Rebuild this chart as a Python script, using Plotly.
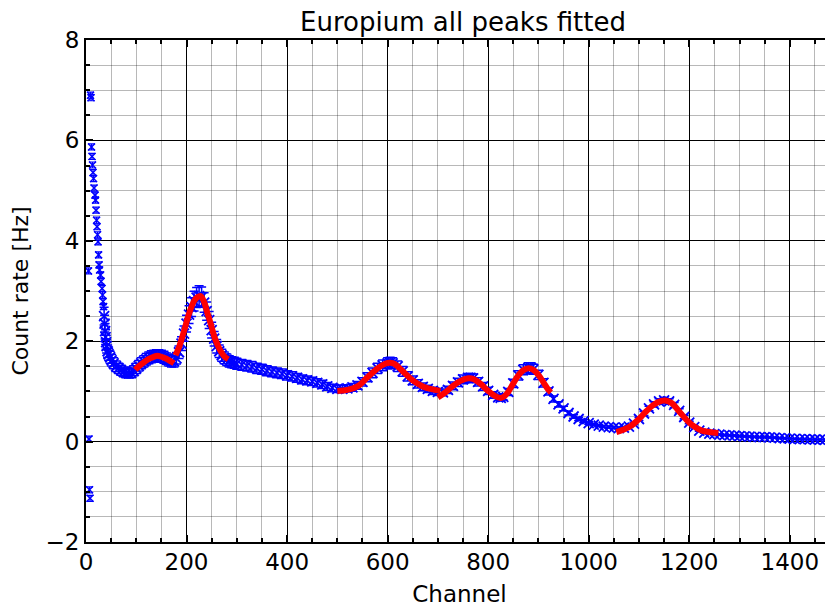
import plotly.graph_objects as go

# ---- measured data (channel, count rate in Hz) ----
# first channels (noisy start of the spectrum)
early_channels = [6, 7, 8, 5, 9, 10, 11, 12, 13, 14, 15, 16, 18, 19, 20, 21, 22, 23, 24, 25, 26, 27, 29, 30, 32, 33,
                  34, 35]
early_rates = [0.05, -0.96, -1.13, 3.40, 6.90, 6.85, 5.87, 5.68, 5.51, 5.36, 5.24, 5.05, 4.91, 4.81, 4.61, 4.41,
               4.28, 4.12, 3.98, 3.72, 3.52, 3.42, 3.32, 3.19, 3.05, 2.92, 2.79, 2.69]
early_error = 0.06

channels = [36, 37, 38, 39, 40, 41, 43, 45, 48, 51, 55, 60, 65, 70, 75, 80, 85, 90, 95, 100, 105, 110, 115, 120,
            125, 130, 135, 140, 145, 150, 155, 160, 165, 170, 175, 180, 185, 190, 195, 200, 205, 210, 215, 220,
            225, 230, 235, 240, 245, 250, 255, 260, 265, 270, 275, 280, 285, 290, 295, 300, 310, 320, 330, 340,
            350, 360, 370, 380, 390, 400, 410, 420, 430, 440, 450, 460, 470, 480, 490, 500, 510, 520, 530, 540,
            550, 560, 570, 580, 590, 600, 605, 610, 620, 630, 640, 650, 660, 670, 680, 690, 700, 710, 720, 730,
            740, 750, 760, 765, 770, 780, 790, 800, 810, 820, 825, 830, 840, 850, 860, 870, 880, 885, 890, 900,
            910, 920, 930, 940, 950, 960, 970, 980, 990, 1000, 1010, 1020, 1030, 1040, 1050, 1060, 1070, 1080,
            1090, 1100, 1110, 1120, 1130, 1140, 1150, 1160, 1170, 1180, 1190, 1200, 1210, 1220, 1230, 1240, 1250,
            1260, 1270, 1280, 1290, 1300, 1310, 1320, 1330, 1340, 1350, 1360, 1370, 1380, 1390, 1400, 1410, 1420,
            1430, 1440, 1450, 1460, 1470, 1480, 1490]
rates = [2.50, 2.35, 2.20, 2.08, 1.98, 1.90, 1.80, 1.74, 1.68, 1.62, 1.56, 1.50, 1.46, 1.42, 1.39, 1.37, 1.36, 1.37,
         1.41, 1.46, 1.51, 1.56, 1.60, 1.64, 1.67, 1.69, 1.70, 1.71, 1.71, 1.70, 1.68, 1.65, 1.62, 1.60, 1.60, 1.66,
         1.78, 1.95, 2.15, 2.35, 2.53, 2.68, 2.80, 2.87, 2.90, 2.88, 2.77, 2.60, 2.42, 2.22, 2.05, 1.90, 1.80, 1.72,
         1.67, 1.63, 1.60, 1.58, 1.57, 1.55, 1.53, 1.51, 1.49, 1.46, 1.44, 1.41, 1.39, 1.37, 1.35, 1.32, 1.30, 1.27,
         1.24, 1.22, 1.20, 1.17, 1.14, 1.10, 1.07, 1.05, 1.05, 1.06, 1.08, 1.12, 1.19, 1.28, 1.37, 1.46, 1.52, 1.56,
         1.57, 1.56, 1.50, 1.40, 1.30, 1.22, 1.15, 1.09, 1.05, 1.01, 0.99, 0.98, 1.03, 1.11, 1.18, 1.24, 1.27, 1.27,
         1.26, 1.19, 1.10, 1.01, 0.93, 0.88, 0.87, 0.89, 0.99, 1.16, 1.32, 1.43, 1.47, 1.47, 1.44, 1.33, 1.17, 1.00,
         0.85, 0.74, 0.66, 0.57, 0.50, 0.45, 0.41, 0.37, 0.34, 0.32, 0.30, 0.29, 0.28, 0.27, 0.28, 0.30, 0.36, 0.45,
         0.56, 0.66, 0.74, 0.80, 0.82, 0.80, 0.73, 0.61, 0.49, 0.38, 0.29, 0.22, 0.18, 0.16, 0.15,
         0.14, 0.13, 0.125, 0.12, 0.11, 0.105, 0.10, 0.095, 0.09, 0.088, 0.085, 0.078, 0.07, 0.065, 0.06, 0.055, 0.05,
         0.048, 0.045, 0.042, 0.04, 0.037, 0.035, 0.03]
rate_error_percent = 7

# ---- fitted curves ----
fit1_ch = [98, 105, 115, 125, 135, 142, 150, 160, 170, 175]
fit1_val = [1.43, 1.50, 1.58, 1.65, 1.69, 1.71, 1.69, 1.65, 1.59, 1.56]
fit2_ch = [178, 185, 195, 205, 215, 222, 228, 235, 241, 248, 255, 262, 268, 275, 283]
fit2_val = [1.72, 1.88, 2.20, 2.55, 2.80, 2.88, 2.90, 2.78, 2.58, 2.35, 2.10, 1.92, 1.80, 1.70, 1.64]
fit3_ch = [500, 520, 540, 560, 580, 595, 605, 615, 630, 650, 670, 690, 705]
fit3_val = [1.01, 1.03, 1.10, 1.28, 1.46, 1.55, 1.57, 1.54, 1.40, 1.22, 1.10, 1.04, 1.01]
fit4_ch = [700, 715, 730, 745, 760, 770, 785, 800, 815, 825, 832, 840, 850, 860, 870, 880, 890, 900, 910, 920, 925]
fit4_val = [0.88, 0.98, 1.11, 1.21, 1.26, 1.25, 1.15, 1.01, 0.90, 0.87, 0.90, 0.99, 1.16, 1.32, 1.42, 1.46, 1.43,
            1.33, 1.18, 1.03, 0.98]
fit5_ch = [1055, 1070, 1085, 1100, 1115, 1130, 1145, 1152, 1165, 1180, 1195, 1210, 1225, 1240, 1258]
fit5_val = [0.19, 0.24, 0.32, 0.45, 0.61, 0.74, 0.81, 0.82, 0.77, 0.60, 0.43, 0.30, 0.22, 0.19, 0.17]

x_ticks = [0, 200, 400, 600, 800, 1000, 1200, 1400]
y_ticks = [-2, 0, 2, 4, 6, 8]
y_tick_text = ["\u22122", "0", "2", "4", "6", "8"]

FONT = "DejaVu Sans"
BLUE = "#0000ff"
fig = go.Figure()
fig.add_trace(go.Scatter(
    x=early_channels, y=early_rates, mode="markers",
    marker=dict(symbol="x-thin", size=7, color=BLUE, line=dict(color=BLUE, width=1.5)),
    error_y=dict(type="constant", value=early_error, color=BLUE, thickness=1.2, width=3.5),
    showlegend=False))
fig.add_trace(go.Scatter(
    x=channels, y=rates, mode="markers",
    marker=dict(symbol="x-thin", size=10, color=BLUE, line=dict(color=BLUE, width=1.8)),
    error_y=dict(type="percent", value=rate_error_percent, color=BLUE, thickness=1.5, width=4.5),
    showlegend=False))
for fx, fy in [(fit1_ch, fit1_val), (fit2_ch, fit2_val), (fit3_ch, fit3_val), (fit4_ch, fit4_val), (fit5_ch, fit5_val)]:
    fig.add_trace(go.Scatter(x=fx, y=fy, mode="lines", line=dict(color="#ff0000", width=6, shape="spline"),
                             showlegend=False))

axis_common = dict(showline=True, linecolor="black", linewidth=2, mirror="allticks", ticks="inside",
                   ticklen=7, tickwidth=1.5, tickcolor="black", showgrid=True, gridcolor="black", gridwidth=1,
                   zeroline=False, automargin=False, tickfont=dict(family=FONT, size=23, color="black"))
fig.update_xaxes(range=[0, 1486], tickvals=x_ticks, ticklabelstandoff=-2,
                 title=dict(text="Channel", font=dict(family=FONT, size=23), standoff=12),
                 minor=dict(dtick=50, tick0=0, showgrid=True, gridcolor="rgba(0,0,0,0.28)", gridwidth=1.3,
                            ticks="inside", ticklen=4, tickcolor="black"),
                 **axis_common)
fig.update_yaxes(range=[-2, 8], tickvals=y_ticks, ticktext=y_tick_text,
                 title=dict(text="Count rate [Hz]", font=dict(family=FONT, size=22), standoff=14),
                 minor=dict(dtick=0.5, tick0=0, showgrid=True, gridcolor="rgba(0,0,0,0.28)", gridwidth=1.3,
                            ticks="inside", ticklen=4, tickcolor="black"),
                 **axis_common)
# the page body adds an 8 px offset, so margins are shifted accordingly
fig.update_layout(
    width=833, height=609, autosize=False,
    margin=dict(l=78, r=8, t=32, b=75),
    plot_bgcolor="white", paper_bgcolor="white",
    title=dict(text="Europium all peaks fitted", font=dict(family=FONT, size=26, color="black"),
               x=455 / 833, xanchor="center", y=1 - 14 / 609, yanchor="middle", xref="container", yref="container"),
    font=dict(family=FONT, color="black"),
)
fig.write_html("out.html")
